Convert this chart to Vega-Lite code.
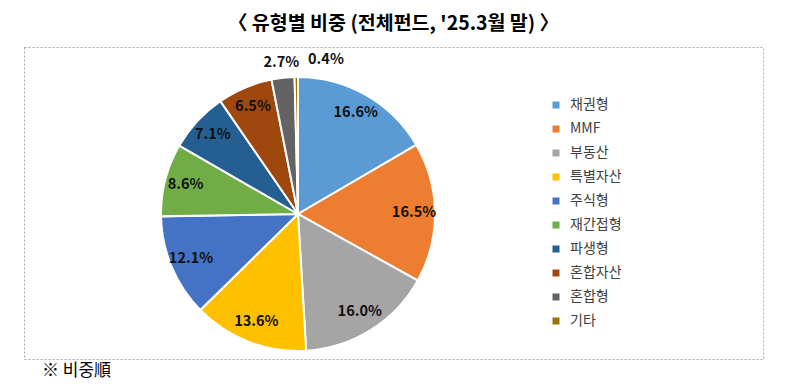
{
  "$schema": "https://vega.github.io/schema/vega-lite/v6.json",
  "width": 739,
  "height": 312,
  "autosize": {"type": "none"},
  "padding": {"left": 24, "top": 47, "right": 37, "bottom": 33},
  "background": "white",
  "view": {"stroke": "#a6a6a6", "strokeDash": [2, 2], "strokeWidth": 1},
  "title": {
    "text": "〈 유형별 비중 (전체펀드, '25.3월 말) 〉",
    "font": "Noto Sans CJK KR",
    "fontSize": 19.5,
    "fontWeight": 600,
    "color": "#000000",
    "offset": 13,
    "anchor": "middle"
  },
  "config": {
    "view": {"stroke": "#a6a6a6", "strokeDash": [2, 2], "strokeWidth": 1}
  },
  "layer": [
    {
      "data": {
        "values": [
          {"name": "채권형", "value": 0.166, "rank": 1},
          {"name": "MMF", "value": 0.165, "rank": 2},
          {"name": "부동산", "value": 0.160, "rank": 3},
          {"name": "특별자산", "value": 0.136, "rank": 4},
          {"name": "주식형", "value": 0.121, "rank": 5},
          {"name": "재간접형", "value": 0.086, "rank": 6},
          {"name": "파생형", "value": 0.071, "rank": 7},
          {"name": "혼합자산", "value": 0.065, "rank": 8},
          {"name": "혼합형", "value": 0.027, "rank": 9},
          {"name": "기타", "value": 0.004, "rank": 10}
        ]
      },
      "encoding": {
        "theta": {"field": "value", "type": "quantitative", "stack": true},
        "order": {"field": "rank", "type": "quantitative"}
      },
      "layer": [
        {
          "mark": {"type": "arc", "outerRadius": 137, "x": 274, "y": 167, "stroke": "white", "strokeWidth": 2},
          "encoding": {
            "color": {
              "field": "name",
              "type": "nominal",
              "sort": ["채권형", "MMF", "부동산", "특별자산", "주식형", "재간접형", "파생형", "혼합자산", "혼합형", "기타"],
              "scale": {
                "domain": ["채권형", "MMF", "부동산", "특별자산", "주식형", "재간접형", "파생형", "혼합자산", "혼합형", "기타"],
                "range": ["#5B9BD5", "#ED7D31", "#A5A5A5", "#FFC000", "#4472C4", "#70AD47", "#255E91", "#9E480E", "#636363", "#997300"]
              },
              "legend": {
                "orient": "none",
                "legendX": 525,
                "legendY": 51,
                "title": null,
                "symbolType": "square",
                "symbolSize": 49,
                "symbolStrokeWidth": 0,
                "labelFont": "Noto Sans CJK KR",
                "labelFontSize": 14,
                "labelColor": "#404040",
                "labelOffset": 7,
                "rowPadding": 10
              }
            }
          }
        },
        {
          "mark": {"type": "text", "radius": 116, "x": 274, "y": 167, "font": "Noto Sans CJK KR", "fontSize": 14.5, "fontWeight": "bold", "color": "#111111"},
          "encoding": {
            "text": {"condition": {"test": "datum.value < 0.05", "value": ""}, "field": "value", "type": "quantitative", "format": ".1%"}
          }
        },
        {
          "mark": {"type": "text", "radius": 152, "x": 274, "y": 167, "font": "Noto Sans CJK KR", "fontSize": 14.5, "fontWeight": "bold", "color": "#111111"},
          "encoding": {
            "text": {"condition": {"test": "datum.name !== '혼합형'", "value": ""}, "field": "value", "type": "quantitative", "format": ".1%"}
          }
        },
        {
          "mark": {"type": "text", "radius": 154, "x": 274, "y": 167, "dx": 12, "align": "left", "font": "Noto Sans CJK KR", "fontSize": 14.5, "fontWeight": "bold", "color": "#111111"},
          "encoding": {
            "text": {"condition": {"test": "datum.name !== '기타'", "value": ""}, "field": "value", "type": "quantitative", "format": ".1%"}
          }
        }
      ]
    },
    {
      "data": {"values": [{}]},
      "mark": {"type": "text", "text": "※ 비중順", "x": 18, "y": 324, "align": "left", "baseline": "middle", "font": "Noto Sans CJK KR", "fontSize": 17, "color": "#000000"},
      "encoding": {}
    }
  ]
}
